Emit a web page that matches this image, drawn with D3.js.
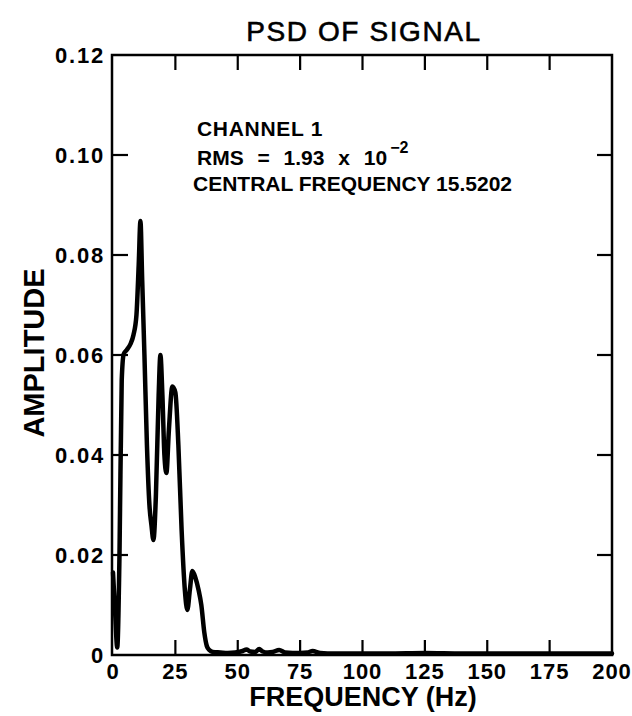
<!DOCTYPE html>
<html>
<head>
<meta charset="utf-8">
<script src="https://cdn.jsdelivr.net/npm/d3@7"></script>
<style>
  body { margin: 0; background: #fff; }
  svg text { font-family: "Liberation Sans", Arial, sans-serif; fill: #000; }
</style>
</head>
<body>
<div id="chart"></div>
<script>
// values
const freq = [0, 0.8, 1.7, 2.6, 3.5, 4.3, 5.5, 7, 8.2, 9.4, 10.3, 11, 11.7, 12.6, 13.6, 14.6, 15.4, 16.2, 17.2, 18.3, 19, 19.8, 20.6, 21.4, 22.4, 23.8, 25, 26.2, 27.5, 28.8, 29.8, 30.8, 31.8, 33, 34.3, 35.4, 36.6, 37.6, 38.6, 40, 43, 46, 49, 52, 53.5, 55, 57, 58.6, 60, 62, 64, 66.6, 69, 72, 75, 78, 80, 83, 86, 90, 100, 110, 125, 140, 150, 175, 200];
const amp  = [0.0165, 0.009, 0.0015, 0.02, 0.055, 0.0602, 0.061, 0.0622, 0.064, 0.068, 0.078, 0.0868, 0.075, 0.06, 0.042, 0.030, 0.026, 0.023, 0.032, 0.052, 0.060, 0.052, 0.040, 0.0364, 0.045, 0.0537, 0.0525, 0.042, 0.025, 0.013, 0.009, 0.013, 0.0168, 0.0155, 0.013, 0.010, 0.0045, 0.0018, 0.001, 0.0006, 0.0005, 0.0004, 0.0005, 0.0008, 0.0011, 0.0007, 0.0006, 0.0012, 0.0007, 0.0005, 0.0006, 0.001, 0.0005, 0.0004, 0.0004, 0.0005, 0.0008, 0.0004, 0.0003, 0.0003, 0.0003, 0.0003, 0.0004, 0.0003, 0.0003, 0.0003, 0.0003];
const xTicks = [0, 25, 50, 75, 100, 125, 150, 175, 200];
const yTicks = [0, 0.02, 0.04, 0.06, 0.08, 0.10, 0.12];
const yTickLabels = ['0', '0.02', '0.04', '0.06', '0.08', '0.10', '0.12'];
const notes = ['CHANNEL 1', 'RMS = 1.93 x 10', 'CENTRAL FREQUENCY 15.5202'];

const width = 632, height = 716;
const margin = {top: 55, right: 20, bottom: 61, left: 113};

const svg = d3.select('#chart')
    .append('svg')
    .attr('width', width)
    .attr('height', height);

const x = d3.scaleLinear().domain([0, 200]).range([margin.left, width - margin.right]);
const y = d3.scaleLinear().domain([0, 0.12]).range([height - margin.bottom, margin.top]);

// frame
svg.append('rect')
    .attr('x', x(0) - 1)
    .attr('y', y(0.12))
    .attr('width', x(200) - x(0) + 1)
    .attr('height', y(0) - y(0.12))
    .attr('fill', 'none')
    .attr('stroke', '#000')
    .attr('stroke-width', 2.5);

// inward ticks on all four sides
const tickLen = 15;
const tickStyle = sel => sel.attr('stroke', '#000').attr('stroke-width', 2.2);

svg.append('g').selectAll('line').data(xTicks.slice(1, -1)).join('line')
    .attr('x1', d => x(d)).attr('x2', d => x(d))
    .attr('y1', y(0)).attr('y2', y(0) - tickLen)
    .call(tickStyle);
svg.append('g').selectAll('line').data(xTicks.slice(1, -1)).join('line')
    .attr('x1', d => x(d)).attr('x2', d => x(d))
    .attr('y1', y(0.12)).attr('y2', y(0.12) + tickLen)
    .call(tickStyle);
svg.append('g').selectAll('line').data(yTicks.slice(1, -1)).join('line')
    .attr('x1', x(0) - 1).attr('x2', x(0) + tickLen)
    .attr('y1', d => y(d)).attr('y2', d => y(d))
    .call(tickStyle);
svg.append('g').selectAll('line').data(yTicks.slice(1, -1)).join('line')
    .attr('x1', x(200)).attr('x2', x(200) - tickLen)
    .attr('y1', d => y(d)).attr('y2', d => y(d))
    .call(tickStyle);

// tick labels
svg.append('g').selectAll('text').data(xTicks).join('text')
    .attr('x', d => x(d))
    .attr('y', y(0) + 24)
    .attr('text-anchor', 'middle')
    .attr('font-size', 22)
    .attr('font-weight', 'bold')
    .attr('letter-spacing', 1)
    .text(d => d);

svg.append('g').selectAll('text').data(yTicks).join('text')
    .attr('x', x(0) - 8)
    .attr('y', d => y(d) + 8)
    .attr('text-anchor', 'end')
    .attr('font-size', 22)
    .attr('font-weight', 'bold')
    .attr('letter-spacing', 1.8)
    .text((d, i) => yTickLabels[i]);

// titles
svg.append('text')
    .attr('x', 364)
    .attr('y', 41)
    .attr('text-anchor', 'middle')
    .attr('font-size', 28)
    .attr('letter-spacing', 1.6)
    .attr('stroke', '#000')
    .attr('stroke-width', 0.6)
    .text('PSD OF SIGNAL');

svg.append('text')
    .attr('x', 363)
    .attr('y', 706)
    .attr('text-anchor', 'middle')
    .attr('font-size', 27)
    .attr('font-weight', 'bold')
    .text('FREQUENCY (Hz)');

svg.append('text')
    .attr('transform', 'translate(44,353) rotate(-90)')
    .attr('text-anchor', 'middle')
    .attr('font-size', 29)
    .attr('font-weight', 'bold')
    .text('AMPLITUDE');

// annotation block
const note = svg.append('g')
    .attr('font-size', 21)
    .attr('font-weight', 'bold');
const noteRows = note.selectAll('text').data(notes).join('text')
    .attr('x', (d, i) => i === 2 ? 193 : 197)
    .attr('y', (d, i) => [136, 165, 191][i])
    .attr('letter-spacing', (d, i) => i === 0 ? 0.7 : 0)
    .attr('word-spacing', (d, i) => i === 1 ? 8 : 0)
    .text(d => d);
noteRows.filter((d, i) => i === 1)
    .append('tspan')
    .attr('dx', 3)
    .attr('dy', -12)
    .attr('font-size', 16)
    .text('\u22122');

// the spectrum
const line = d3.line()
    .x((d, i) => x(freq[i]))
    .y(d => y(d))
    .curve(d3.curveMonotoneX);

svg.append('path')
    .datum(amp)
    .attr('d', line)
    .attr('fill', 'none')
    .attr('stroke', '#000')
    .attr('stroke-width', 4.5)
    .attr('stroke-linejoin', 'round')
    .attr('stroke-linecap', 'round');
</script>
</body>
</html>
